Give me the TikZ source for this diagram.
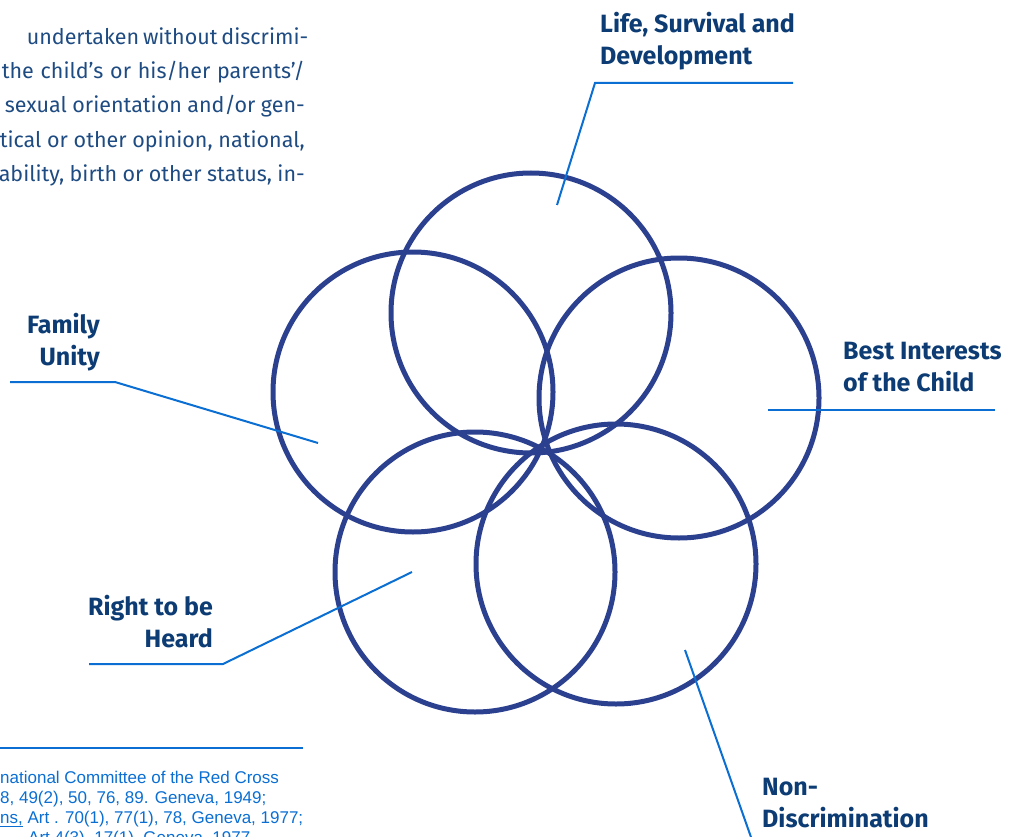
\documentclass[tikz,border=0pt]{standalone}
\usepackage{fontspec}
\setmainfont{Fira Sans}
\newfontfamily\notefont{Liberation Sans}
\usepackage{tikz}
\usetikzlibrary{positioning}
\definecolor{ringblue}{RGB}{43,64,143}
\definecolor{titleblue}{RGB}{12,60,115}
\definecolor{leadblue}{RGB}{10,110,210}
\definecolor{parablue}{RGB}{30,75,130}

\begin{document}
\begin{tikzpicture}[x=1pt, y=-1pt,
	ring/.style={draw=ringblue, line width=5pt, circle, minimum size=280pt, inner sep=0pt},
	lbl/.style={text=titleblue, font=\fontsize{25}{32}\selectfont\bfseries, inner sep=0pt},
	ldr/.style={draw=leadblue, line width=2pt},
	txt/.style={text=parablue, font=\fontsize{21.5}{34}\selectfont, inner sep=0pt, anchor=base east},
	fn/.style={text=leadblue, font=\notefont\fontsize{17}{20}\selectfont, inner sep=0pt, anchor=base west}]
	\clip (0,0) rectangle (1019,837);

	\node[txt] (p1) at (305,45) {\makebox[278pt][s]{undertaken without discrimi-}};
	\node[txt] (p2) at (305,79) {\makebox[303pt][s]{the child’s or his/her parents’/}};
	\node[txt] (p3) at (305,113) {\makebox[300pt][s]{sexual orientation and/or gen-}};
	\node[txt] (p4) at (305,148) {\makebox[305pt][s]{tical or other opinion, national,}};
	\node[txt] (p5) at (305,182) {\makebox[306pt][s]{ability, birth or other status, in-}};

	\node[ring] (life) at (531,313) {};
	\node[ring] (family) at (413,392) {};
	\node[ring] (best) at (679,398) {};
	\node[ring] (heard) at (475,572) {};
	\node[ring] (nondis) at (616,564) {};

	\node[lbl, anchor=base west, align=left] (lifet) at (600,65) {Life, Survival and\\Development};
	\node[lbl, anchor=base east, align=right] (familyt) at (100,365) {Family\\Unity};
	\node[lbl, anchor=base west, align=left] (bestt) at (843,391) {Best Interests\\of the Child};
	\node[lbl, anchor=base east, align=right] (heardt) at (213,647) {Right to be\\Heard};
	\node[lbl, anchor=base west, align=left] (nondist) at (762,827) {Non-\\Discrimination};

	\coordinate (lifea) at (557,205);
	\coordinate (lifeb) at (595,83);
	\coordinate (lifec) at (793,83);
	\coordinate (familya) at (318,443);
	\coordinate (familyb) at (115,382);
	\coordinate (familyc) at (10,382);
	\coordinate (besta) at (768,410);
	\coordinate (bestb) at (995,410);
	\coordinate (hearda) at (412,572);
	\coordinate (heardb) at (223,664);
	\coordinate (heardc) at (89,664);
	\coordinate (nondisa) at (685,650);
	\coordinate (nondisb) at (752,840);

	\draw[ldr] (lifea) -- (lifeb) -- (lifec);
	\draw[ldr] (familya) -- (familyb) -- (familyc);
	\draw[ldr] (besta) -- (bestb);
	\draw[ldr] (hearda) -- (heardb) -- (heardc);
	\draw[ldr] (nondisa) -- (nondisb);

	\coordinate (rulea) at (0,748);
	\coordinate (ruleb) at (303,748);
	\draw[ldr, line width=2.5pt] (rulea) -- (ruleb);

	\node[fn] (f1) at (0,783) {national Committee of the Red Cross};
	\node[fn] (f2) at (0,803) {8, 49(2), 50, 76, 89. Geneva, 1949;};
	\node[fn] (f3) at (0,823) {\underline{ns,} Art . 70(1), 77(1), 78, Geneva, 1977;};
	\node[fn] (f4) at (28,843) {Art 4(3), 17(1), Geneva, 1977};
\end{tikzpicture}
\end{document}
